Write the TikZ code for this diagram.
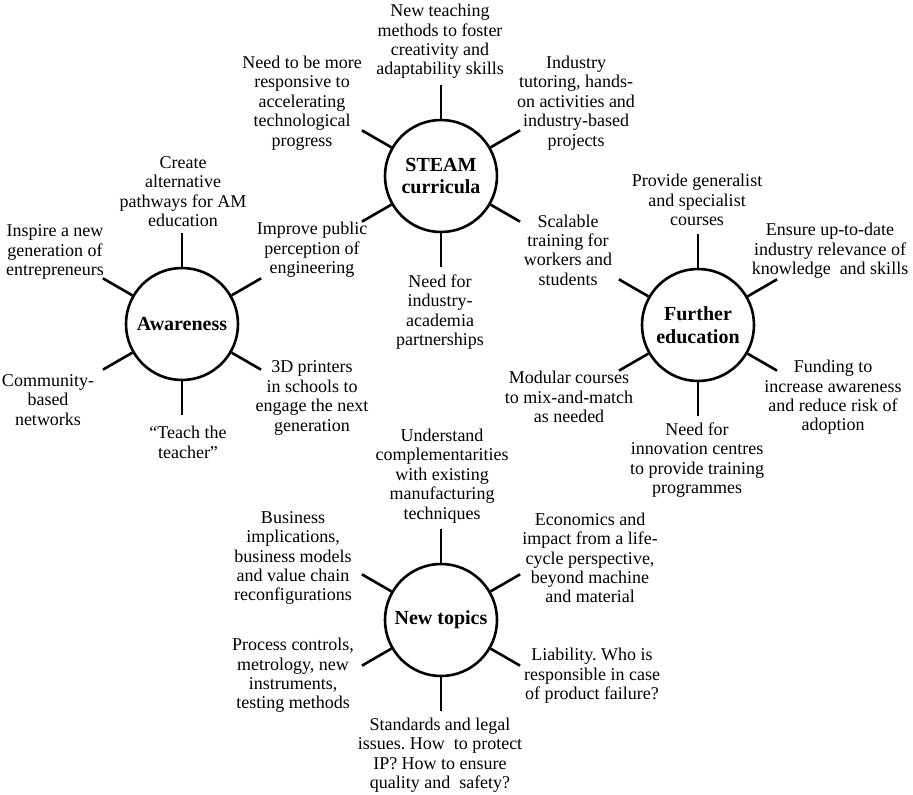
\documentclass[tikz,border=0pt]{standalone}
\usepackage{fontspec}
\setmainfont{Liberation Serif}
\frenchspacing

\begin{document}
\begin{tikzpicture}[x=1pt,y=1pt,
  hub/.style={draw,circle,line width=2.6pt,minimum size=112pt,inner sep=0pt,align=center,
    font=\fontsize{20}{22.5}\selectfont\bfseries},
  idea/.style={align=center,inner sep=0pt,font=\fontsize{18}{19.4}\selectfont},
  spoke/.style={line width=2.6pt}]
  \useasboundingbox (0,0) rectangle (913,-795);

  \node[hub] (steam) at (441,-176) {STEAM\\curricula};
  \node[hub] (aware) at (182,-324) {Awareness};
  \node[hub] (further) at (698,-325) {Further\\education};
  \node[hub] (topics) at (441,-620) {New topics};

  \draw[spoke] (steam.90) -- ++(90:34);
  \draw[spoke] (steam.30) -- ++(30:34);
  \draw[spoke] (steam.150) -- ++(150:34);
  \draw[spoke] (steam.210) -- ++(210:34);
  \draw[spoke] (steam.270) -- ++(270:34);
  \draw[spoke] (steam.330) -- ++(330:34);
  \draw[spoke] (aware.90) -- ++(90:34);
  \draw[spoke] (aware.30) -- ++(30:34);
  \draw[spoke] (aware.150) -- ++(150:34);
  \draw[spoke] (aware.210) -- ++(210:34);
  \draw[spoke] (aware.270) -- ++(270:34);
  \draw[spoke] (aware.330) -- ++(330:34);
  \draw[spoke] (further.90) -- ++(90:34);
  \draw[spoke] (further.30) -- ++(30:34);
  \draw[spoke] (further.150) -- ++(150:34);
  \draw[spoke] (further.210) -- ++(210:34);
  \draw[spoke] (further.270) -- ++(270:34);
  \draw[spoke] (further.330) -- ++(330:34);
  \draw[spoke] (topics.90) -- ++(90:34);
  \draw[spoke] (topics.30) -- ++(30:34);
  \draw[spoke] (topics.150) -- ++(150:34);
  \draw[spoke] (topics.210) -- ++(210:34);
  \draw[spoke] (topics.270) -- ++(270:34);
  \draw[spoke] (topics.330) -- ++(330:34);

  % STEAM curricula
  \node[idea] (steam-n) at (440,-41.5) {New teaching\\methods to foster\\creativity and\\adaptability skills};
  \node[idea] (steam-nw) at (302,-103) {Need to be more\\responsive to\\accelerating\\technological\\progress};
  \node[idea] (steam-ne) at (576,-103) {Industry\\tutoring, hands-\\on activities and\\industry-based\\projects};
  \node[idea] (steam-sw) at (312,-250) {Improve public\\perception of\\engineering};
  \node[idea] (steam-se) at (568,-250) {Scalable\\training for\\workers and\\students};
  \node[idea] (steam-s) at (440,-312) {Need for\\industry-\\academia\\partnerships};

  % Awareness
  \node[idea] (aware-n) at (183,-191.5) {Create\\alternative\\pathways for AM\\education};
  \node[idea] (aware-nw) at (55,-252) {Inspire a new\\generation of\\entrepreneurs};
  \node[idea] (aware-sw) at (48,-400) {Community-\\based\\networks};
  \node[idea] (aware-s) at (188,-442.5) {“Teach the\\teacher”};
  \node[idea] (aware-se) at (312,-398) {3D printers\\in schools to\\engage the next\\generation};

  % Further education
  \node[idea] (further-n) at (697,-200) {Provide generalist\\and specialist\\courses};
  \node[idea] (further-ne) at (830,-251) {Ensure up-to-date\\industry relevance of\\knowledge~ and skills};
  \node[idea] (further-sw) at (569,-397) {Modular courses\\to mix-and-match\\as needed};
  \node[idea] (further-s) at (697,-460) {Need for\\innovation centres\\to provide training\\programmes};
  \node[idea] (further-se) at (833,-397.5) {Funding to\\increase awareness\\and reduce risk of\\adoption};

  % New topics
  \node[idea] (topics-n) at (442,-476) {Understand\\complementarities\\with existing\\manufacturing\\techniques};
  \node[idea] (topics-nw) at (293,-558) {Business\\implications,\\business models\\and value chain\\reconfigurations};
  \node[idea] (topics-ne) at (590,-558) {Economics and\\impact from a life-\\cycle perspective,\\beyond machine\\and material};
  \node[idea] (topics-sw) at (293,-675.5) {Process controls,\\metrology, new\\instruments,\\testing methods};
  \node[idea] (topics-se) at (592,-676) {Liability. Who is\\responsible in case\\of product failure?};
  \node[idea] (topics-s) at (440,-755) {Standards and legal\\issues. How~ to protect\\IP? How to ensure\\quality and~ safety?};
\end{tikzpicture}
\end{document}
